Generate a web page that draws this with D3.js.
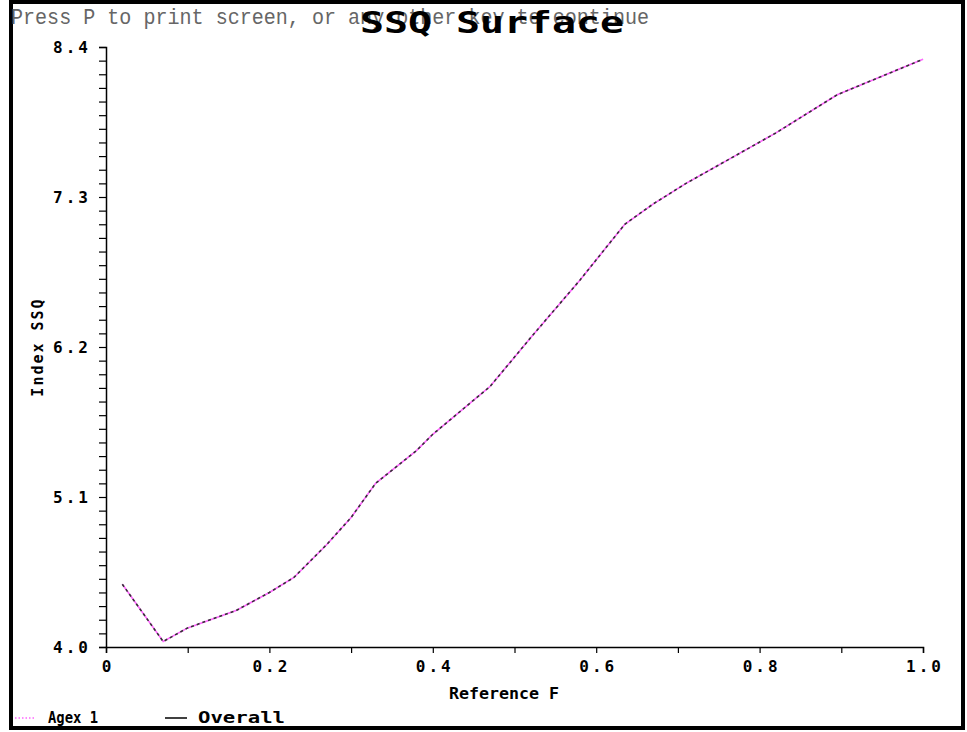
<!DOCTYPE html>
<html>
<head>
<meta charset="utf-8">
<script src="https://cdn.jsdelivr.net/npm/d3@7"></script>
<style>
  body { margin: 0; background: #fff; }
  svg { display: block; }
</style>
</head>
<body>
<script>
// values
var refF   = [0.02, 0.07, 0.10, 0.16, 0.20, 0.23, 0.27, 0.30, 0.33, 0.38, 0.40, 0.45, 0.47, 0.52, 0.58, 0.635, 0.67, 0.71, 0.82, 0.895, 1.00];
var agex1  = [4.46, 4.04, 4.14, 4.27, 4.40, 4.51, 4.75, 4.95, 5.20, 5.44, 5.56, 5.81, 5.91, 6.27, 6.69, 7.10, 7.25, 7.40, 7.77, 8.05, 8.31];
var overall = agex1.slice();
var yMajor = [4.0, 5.1, 6.2, 7.3, 8.4];
var xMajor = [0, 0.2, 0.4, 0.6, 0.8, 1.0];
var xLabels = ["0", "0.2", "0.4", "0.6", "0.8", "1.0"];

var w = 967, h = 732;
var svg = d3.select("body").append("svg").attr("width", w).attr("height", h);

var x = d3.scaleLinear().domain([0, 1]).range([106, 923]);
var y = d3.scaleLinear().domain([4.0, 8.4]).range([647, 47]);

// frame
svg.append("rect").attr("x", 11).attr("y", 2).attr("width", 952).attr("height", 726)
  .attr("fill", "none").attr("stroke", "#000").attr("stroke-width", 4);

var mono = "'DejaVu Sans Mono', 'Liberation Mono', monospace";

// axes
var yTicks = d3.range(0, 45).map(function(i){ return +(4.0 + i * 0.1).toFixed(1); });
var xTicks = d3.range(0, 11).map(function(i){ return +(i * 0.1).toFixed(1); });

var yAxis = svg.append("g").attr("transform", "translate(106,0)")
  .call(d3.axisLeft(y).tickValues(yTicks).tickSize(7).tickPadding(8)
    .tickFormat(function(d){ return yMajor.some(function(m){ return Math.abs(m - d) < 1e-6; }) ? d.toFixed(1) : ""; }));
var xAxis = svg.append("g").attr("transform", "translate(0,647)")
  .call(d3.axisBottom(x).tickValues(xTicks).tickSize(6).tickPadding(8)
    .tickFormat(function(d){
      var k = xMajor.findIndex(function(m){ return Math.abs(m - d) < 1e-6; });
      return k >= 0 ? xLabels[k] : "";
    }));

[yAxis, xAxis].forEach(function(g){
  g.select(".domain").attr("stroke", "#000").attr("stroke-width", 1.5);
  g.selectAll(".tick line").attr("stroke", "#000").attr("stroke-width", 1.2);
  g.selectAll(".tick text").attr("fill", "#000")
    .style("font-family", mono).style("font-weight", "bold").style("font-size", "16px")
    .style("letter-spacing", "3px");
});
yAxis.selectAll(".tick text").attr("dy", "0.35em");
xAxis.selectAll(".tick text").attr("dx", "1.5px");

// lines
var line = d3.line().x(function(d){ return x(d[0]); }).y(function(d){ return y(d[1]); });
svg.append("path").datum(refF.map(function(f, i){ return [f, agex1[i]]; }))
  .attr("d", line).attr("fill", "none").attr("stroke", "#ff66ff").attr("stroke-width", 1.6);
svg.append("path").datum(refF.map(function(f, i){ return [f, overall[i]]; }))
  .attr("d", line).attr("fill", "none").attr("stroke", "#333").attr("stroke-width", 1.6)
  .attr("stroke-dasharray", "3,3");

// texts
svg.append("text").attr("x", 11).attr("y", 24).attr("textLength", 638)
  .attr("lengthAdjust", "spacingAndGlyphs")
  .style("font-family", "'Liberation Mono', monospace").style("font-size", "22px").attr("fill", "#666")
  .text("Press P to print screen, or any other key to continue");

svg.append("text").attr("x", 360).attr("y", 33).attr("textLength", 264)
  .attr("lengthAdjust", "spacingAndGlyphs")
  .style("font-family", mono).style("font-weight", "bold").style("font-size", "30px").attr("fill", "#000")
  .text("SSQ Surface");

svg.append("text").attr("x", 449).attr("y", 699).attr("textLength", 110)
  .attr("lengthAdjust", "spacingAndGlyphs")
  .style("font-family", mono).style("font-weight", "bold").style("font-size", "16px").attr("fill", "#000")
  .text("Reference F");

svg.append("text").attr("transform", "translate(43,347) rotate(-90)").attr("text-anchor", "middle")
  .style("font-family", mono).style("font-weight", "bold").style("font-size", "15px").attr("fill", "#000")
  .style("letter-spacing", "2px")
  .text("Index SSQ");

// legend
svg.append("line").attr("x1", 15).attr("x2", 36).attr("y1", 718).attr("y2", 718)
  .attr("stroke", "#ff66ff").attr("stroke-width", 1.5).attr("stroke-dasharray", "1.5,2");
svg.append("text").attr("x", 48).attr("y", 723).attr("textLength", 50)
  .attr("lengthAdjust", "spacingAndGlyphs")
  .style("font-family", mono).style("font-weight", "bold").style("font-size", "16px").attr("fill", "#000")
  .text("Agex 1");
svg.append("line").attr("x1", 165).attr("x2", 187).attr("y1", 718).attr("y2", 718)
  .attr("stroke", "#000").attr("stroke-width", 1.5);
svg.append("text").attr("x", 198).attr("y", 723).attr("textLength", 87)
  .attr("lengthAdjust", "spacingAndGlyphs")
  .style("font-family", mono).style("font-weight", "bold").style("font-size", "16px").attr("fill", "#000")
  .text("Overall");
</script>
</body>
</html>
